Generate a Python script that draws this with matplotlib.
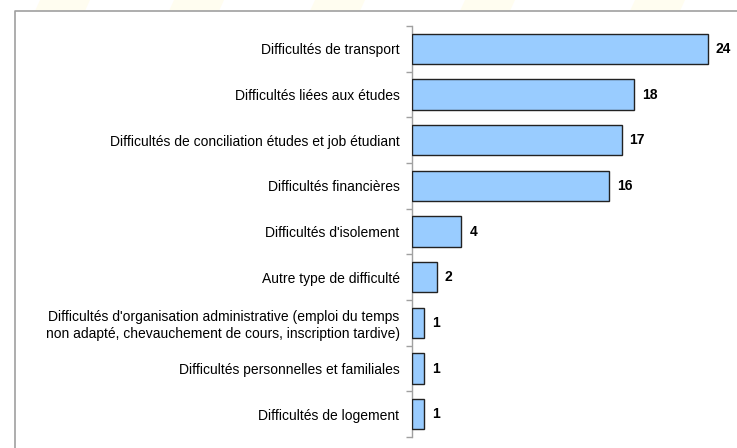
import matplotlib
matplotlib.use("Agg")
import matplotlib.pyplot as plt
from matplotlib.lines import Line2D
from matplotlib.patches import Polygon
import numpy as np

plt.rcParams['font.family'] = ['Liberation Sans', 'DejaVu Sans']

categories = [
    "Difficultés de transport",
    "Difficultés liées aux études",
    "Difficultés de conciliation études et job étudiant",
    "Difficultés financières",
    "Difficultés d'isolement",
    "Autre type de difficulté",
    "Difficultés d'organisation administrative (emploi du temps\nnon adapté, chevauchement de cours, inscription tardive)",
    "Difficultés personnelles et familiales",
    "Difficultés de logement",
]
values = [24, 18, 17, 16, 4, 2, 1, 1, 1]

W, H = 737, 448
fig = plt.figure(figsize=(W / 100, H / 100), dpi=100)
fig.patch.set_facecolor("white")

# faint watermark stripes at the top of the page
for x0 in [40, 174, 315, 465, 635]:
    pts = [(x0 / W, 1.0), ((x0 + 50) / W, 1.0), ((x0 + 45) / W, 1 - 11 / H), ((x0 - 5) / W, 1 - 11 / H)]
    fig.add_artist(Polygon(pts, closed=True, transform=fig.transFigure,
                           facecolor="#fffdf0", edgecolor="none", zorder=0))

# frame of the chart area
fig.add_artist(Line2D([15 / W, 15 / W, 1.0], [0.0, 1 - 11 / H, 1 - 11 / H],
                      transform=fig.transFigure, color="#a0a0a0", lw=1.2))

ax = fig.add_axes([412 / W, 1 - 437 / H, 1 - 412 / W, (437 - 26) / H])
ax.set_facecolor("none")

y = np.arange(len(categories))
ax.barh(y, values, height=0.66, color="#99ccff", edgecolor="#222222", linewidth=1.0, zorder=3)

ax.set_xlim(0, (W - 412) / 12.33)
ax.set_ylim(len(categories) - 0.5, -0.5)

for yi, v in zip(y, values):
    ax.text(v + 0.65, yi, str(v), ha="left", va="center", fontsize=10, fontweight="bold", color="black")

ax.set_yticks(y)
ax.set_yticklabels(categories, fontsize=10, ha="right", multialignment="right")
ax.tick_params(axis="y", which="major", length=0, pad=9)
ax.set_yticks(np.arange(-0.5, len(categories), 1.0), minor=True)
ax.tick_params(axis="y", which="minor", length=4, color="#a0a0a0", width=1)

ax.set_xticks([])
for s in ["top", "right", "bottom"]:
    ax.spines[s].set_visible(False)
ax.spines["left"].set_color("#a0a0a0")
ax.spines["left"].set_linewidth(1.0)

fig.savefig("out.png", dpi=100)
